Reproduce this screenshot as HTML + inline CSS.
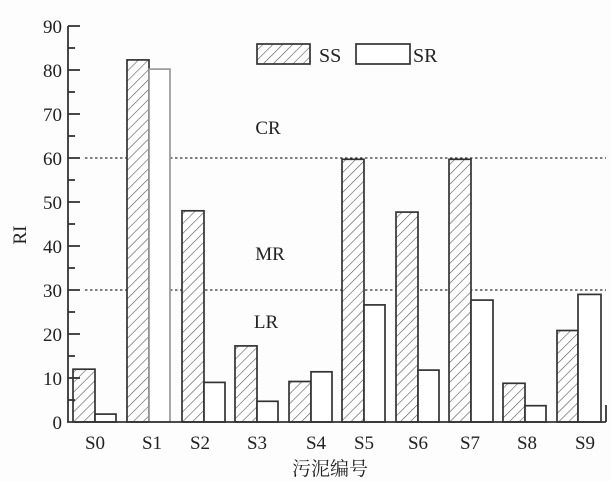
<!DOCTYPE html>
<html><head><meta charset="utf-8"><style>
html,body{margin:0;padding:0;background:#fdfdfd;}
svg{display:block;font-family:"Liberation Serif","Noto Serif CJK SC",serif;}
</style></head><body>
<svg width="611" height="481" viewBox="0 0 611 481" xmlns="http://www.w3.org/2000/svg">
<defs>
<pattern id="h" patternUnits="userSpaceOnUse" width="7" height="7" patternTransform="rotate(45)">
<rect width="7" height="7" fill="#fff"/>
<line x1="0" y1="0" x2="0" y2="7" stroke="#555" stroke-width="1.2"/>
</pattern>
</defs>
<rect width="611" height="481" fill="#fdfdfd"/>
<line x1="85" y1="158" x2="606" y2="158" stroke="#333" stroke-width="1.3" stroke-dasharray="2.5,2.5"/>
<line x1="85" y1="290" x2="606" y2="290" stroke="#333" stroke-width="1.3" stroke-dasharray="2.5,2.5"/>
<g stroke="#333" stroke-width="1.7">
<rect x="73" y="369.2" width="22" height="52.8" fill="url(#h)"/>
<rect x="95" y="414.1" width="21" height="7.9" fill="#fff"/>
<rect x="127" y="59.9" width="22" height="362.1" fill="url(#h)"/>
<rect x="149" y="69.1" width="21" height="352.9" fill="#fff" stroke="#999"/>
<rect x="182" y="210.8" width="22" height="211.2" fill="url(#h)"/>
<rect x="204" y="382.4" width="21" height="39.6" fill="#fff"/>
<rect x="235" y="345.9" width="22" height="76.1" fill="url(#h)"/>
<rect x="257" y="401.3" width="21" height="20.7" fill="#fff"/>
<rect x="289" y="381.5" width="22" height="40.5" fill="url(#h)"/>
<rect x="311" y="371.8" width="21" height="50.2" fill="#fff"/>
<rect x="342" y="159.3" width="22" height="262.7" fill="url(#h)"/>
<rect x="364" y="304.9" width="21" height="117.1" fill="#fff"/>
<rect x="396" y="212.1" width="22" height="209.9" fill="url(#h)"/>
<rect x="418" y="370.1" width="21" height="51.9" fill="#fff"/>
<rect x="449" y="159.3" width="22" height="262.7" fill="url(#h)"/>
<rect x="471" y="300.1" width="22" height="121.9" fill="#fff"/>
<rect x="503" y="383.3" width="22" height="38.7" fill="url(#h)"/>
<rect x="525" y="405.7" width="21" height="16.3" fill="#fff"/>
<rect x="557" y="330.5" width="21" height="91.5" fill="url(#h)"/>
<rect x="578" y="294.4" width="23" height="127.6" fill="#fff"/>
</g>
<g stroke="#333" stroke-width="1.8">
<line x1="68" y1="26" x2="68" y2="422"/>
<line x1="67" y1="422" x2="606" y2="422"/>
<line x1="606" y1="405" x2="606" y2="422"/>
<line x1="68" y1="26" x2="80" y2="26"/><line x1="68" y1="70" x2="80" y2="70"/>
<line x1="68" y1="114" x2="80" y2="114"/><line x1="68" y1="158" x2="80" y2="158"/>
<line x1="68" y1="202" x2="80" y2="202"/><line x1="68" y1="246" x2="80" y2="246"/>
<line x1="68" y1="290" x2="80" y2="290"/><line x1="68" y1="334" x2="80" y2="334"/>
<line x1="68" y1="378" x2="80" y2="378"/>
<line x1="68" y1="48" x2="75" y2="48"/><line x1="68" y1="92" x2="75" y2="92"/>
<line x1="68" y1="136" x2="75" y2="136"/><line x1="68" y1="180" x2="75" y2="180"/>
<line x1="68" y1="224" x2="75" y2="224"/><line x1="68" y1="268" x2="75" y2="268"/>
<line x1="68" y1="312" x2="75" y2="312"/><line x1="68" y1="356" x2="75" y2="356"/>
<line x1="68" y1="400" x2="75" y2="400"/>
</g>
<g font-size="19" fill="#222" text-anchor="end">
<text x="62" y="33">90</text><text x="62" y="77">80</text><text x="62" y="121">70</text>
<text x="62" y="165">60</text><text x="62" y="209">50</text><text x="62" y="253">40</text>
<text x="62" y="297">30</text><text x="62" y="341">20</text><text x="62" y="385">10</text>
<text x="62" y="429">0</text>
</g>
<g font-size="19" fill="#222" text-anchor="middle">
<text x="95" y="449">S0</text><text x="152" y="449">S1</text><text x="200" y="449">S2</text>
<text x="257" y="449">S3</text><text x="316" y="449">S4</text><text x="364" y="449">S5</text>
<text x="418" y="449">S6</text><text x="470" y="449">S7</text><text x="527" y="449">S8</text>
<text x="585" y="449">S9</text>
<text x="330" y="475" font-size="19">污泥编号</text>
<text x="20" y="235" transform="rotate(-90 20 235)" dy="6">RI</text>
<text x="268" y="134">CR</text>
<text x="270" y="260">MR</text>
<text x="266" y="328">LR</text>
</g>
<rect x="257" y="44" width="53" height="20" fill="url(#h)" stroke="#333" stroke-width="1.7"/>
<text x="319" y="62" font-size="20" fill="#222">SS</text>
<rect x="356" y="44" width="54" height="20" fill="#fff" stroke="#333" stroke-width="1.7"/>
<text x="413" y="62" font-size="20" fill="#222">SR</text>
</svg>
</body></html>
